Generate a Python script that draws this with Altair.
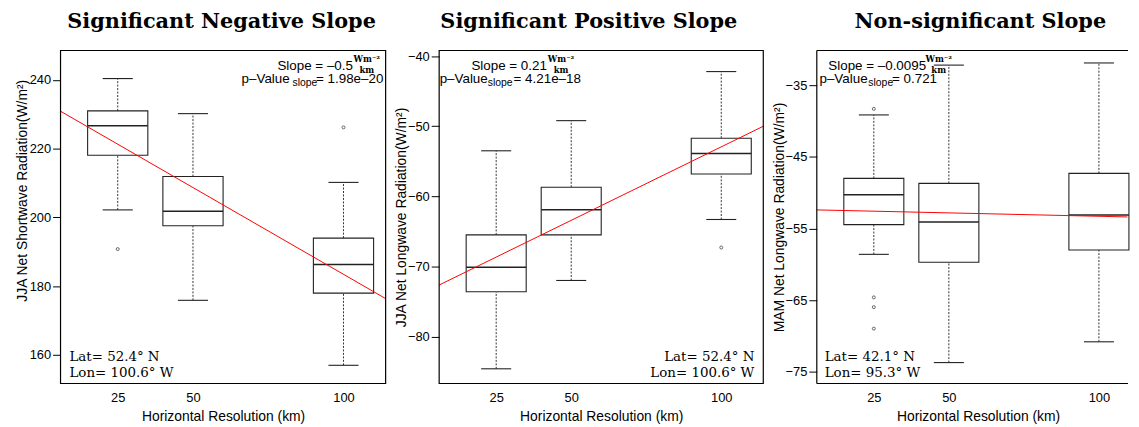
import altair as alt
import pandas as pd

# ---------------- data ----------------
res = [25, 50, 100]

# Panel 1: JJA net shortwave
p1_lo = [202.2, 175.9, 157.0]
p1_q1 = [218.1, 197.6, 178.0]
p1_med = [226.7, 201.8, 186.3]
p1_q3 = [231.0, 211.9, 194.0]
p1_hi = [240.4, 230.2, 210.2]
p1_out_x = [25, 100]
p1_out_y = [190.8, 226.2]
p1_line_x = [6, 114]
p1_line_y = [230.9, 176.4]
p1_yticks = [160, 180, 200, 220, 240]

# Panel 2: JJA net longwave
p2_lo = [-84.6, -72.0, -63.3]
p2_q1 = [-73.6, -65.5, -56.8]
p2_med = [-70.1, -61.9, -53.9]
p2_q3 = [-65.5, -58.7, -51.7]
p2_hi = [-53.5, -49.2, -42.2]
p2_out_x = [100]
p2_out_y = [-67.3]
p2_line_x = [6, 114]
p2_line_y = [-72.65, -50.0]
p2_yticks = [-80, -70, -60, -50, -40]

# Panel 3: MAM net longwave
p3_lo = [-58.6, -73.7, -70.8]
p3_q1 = [-54.45, -59.7, -58.0]
p3_med = [-50.3, -54.1, -53.1]
p3_q3 = [-48.0, -48.7, -47.3]
p3_hi = [-39.15, -32.2, -31.9]
p3_out_x = [25, 25, 25, 25]
p3_out_y = [-38.3, -64.6, -65.97, -68.96]
p3_line_x = [6, 109.5]
p3_line_y = [-52.4, -53.38]
p3_yticks = [-75, -65, -55, -45, -35]

H = 336
SANS = "Liberation Sans"
SERIF = "DejaVu Serif"
one = pd.DataFrame({"a": [0]})


def txt(text, x, y, size=13.5, align="left", font=SANS, weight="normal"):
    return alt.Chart(one).mark_text(
        text=text, align=align, baseline="middle", font=font,
        fontSize=size, fontWeight=weight, color="black"
    ).encode(x=alt.value(x), y=alt.value(y))


def panel(title, title_dx, ytitle, lo, q1, med, q3, hi, ox, oy, lx, ly,
          xdom, ydom, yticks, W, annot, latlon, full_frame=True,
          ytitle_y=None, xtitle_x=None):
    df = pd.DataFrame({"res": res, "lo": lo, "q1": q1, "med": med,
                       "q3": q3, "hi": hi})
    xs = alt.Scale(domain=xdom, nice=False, zero=False)
    ys = alt.Scale(domain=ydom, nice=False, zero=False)
    xkw = dict(values=res, ticks=False, tickSize=0, domain=False, grid=False,
               labelPadding=8, title="Horizontal Resolution (km)",
               titleY=37, titleBaseline="alphabetic")
    if xtitle_x is not None:
        xkw["titleX"] = xtitle_x
    ykw = dict(values=yticks, grid=False, domain=False, tickSize=8,
               labelPadding=2, title=ytitle, titleX=-34,
               titleBaseline="alphabetic")
    if ytitle_y is not None:
        ykw["titleY"] = ytitle_y
    base = alt.Chart(df).transform_calculate(
        bl="datum.res - 10", br="datum.res + 10",
        cl="datum.res - 5", cr="datum.res + 5")
    dash = [2, 1.5]
    w_hi = base.mark_rule(strokeDash=dash, color="#333", strokeWidth=1).encode(
        x=alt.X("res:Q", scale=xs, axis=alt.Axis(**xkw)),
        y=alt.Y("q3:Q", scale=ys, axis=alt.Axis(**ykw)),
        y2="hi:Q")
    w_lo = base.mark_rule(strokeDash=dash, color="#333", strokeWidth=1).encode(
        x="res:Q", y="lo:Q", y2="q1:Q")
    box = base.mark_rect(fill="white", stroke="#222", strokeWidth=1.1).encode(
        x="bl:Q", x2="br:Q", y="q1:Q", y2="q3:Q")
    mline = base.mark_rule(color="#222", strokeWidth=1.5).encode(
        x="bl:Q", x2="br:Q", y="med:Q")
    c_hi = base.mark_rule(color="#222", strokeWidth=1.1).encode(
        x="cl:Q", x2="cr:Q", y="hi:Q")
    c_lo = base.mark_rule(color="#222", strokeWidth=1.1).encode(
        x="cl:Q", x2="cr:Q", y="lo:Q")
    outl = alt.Chart(pd.DataFrame({"ox": ox, "oy": oy})).mark_point(
        shape="circle", filled=False, size=9, color="#222", strokeWidth=1
    ).encode(x="ox:Q", y="oy:Q")
    reg = alt.Chart(pd.DataFrame({"lx": lx, "ly": ly})).mark_line(
        color="red", strokeWidth=1).encode(x="lx:Q", y="ly:Q")

    layers = [w_hi, w_lo, box, mline, c_hi, c_lo, outl, reg]
    if full_frame:
        layers.append(alt.Chart(one).mark_rect(
            fill="transparent", stroke="black", strokeWidth=1.2).encode(
            x=alt.value(0), x2=alt.value(W), y=alt.value(0), y2=alt.value(H)))
    else:
        for (a, b, c, d) in [(0, W, 0, 0), (0, W, H, H), (0, 0, 0, H)]:
            layers.append(alt.Chart(one).mark_rule(
                color="black", strokeWidth=1.2).encode(
                x=alt.value(a), x2=alt.value(b), y=alt.value(c),
                y2=alt.value(d)))
    # annotations
    s_text, s_right, frac_x, p_left, sub_left, pv_text, pv_right = annot
    layers += [
        txt(s_text, s_right, 15.3, align="right"),
        txt("Wm\u207b\u00b2", frac_x, 9.0, size=8.5, align="center",
            font=SERIF, weight="bold"),
        txt("km", frac_x, 19.6, size=8.5, align="center",
            font=SERIF, weight="bold"),
        txt("p\u2013Value", p_left, 28.4),
        txt("slope", sub_left, 32.8, size=10.5),
        txt(pv_text, pv_right, 28.4, align="right"),
    ]
    lat, lon, lx0, lalign = latlon
    layers += [
        txt(lat, lx0, 309, size=13.5, align=lalign, font=SERIF),
        txt(lon, lx0, 325.5, size=13.5, align=lalign, font=SERIF),
    ]
    return alt.layer(*layers).properties(
        width=W, height=H,
        title=alt.TitleParams(text=title, anchor="middle", frame="group",
                              baseline="alphabetic", offset=1, dx=title_dx))


p1 = panel("Significant Negative Slope", -1.5,
           "JJA Net Shortwave Radiation(W/m\u00b2)",
           p1_lo, p1_q1, p1_med, p1_q3, p1_hi, p1_out_x, p1_out_y,
           p1_line_x, p1_line_y, [6, 114], [151.7, 248.57], p1_yticks, 328,
           ("Slope = \u20130.5", 295, 309, 182.7, 234, "= 1.98e\u201320", 325.7),
           ("Lat= 52.4\u00b0 N", "Lon= 100.6\u00b0 W", 9, "left"),
           ytitle_y=141)
p2 = panel("Significant Positive Slope", -12.5,
           "JJA Net Longwave Radiation(W/m\u00b2)",
           p2_lo, p2_q1, p2_med, p2_q3, p2_hi, p2_out_x, p2_out_y,
           p2_line_x, p2_line_y, [6, 114], [-86.7, -39.19], p2_yticks, 327,
           ("Slope = 0.21", 108.7, 123, 0.5, 49, "= 4.21e\u201318", 143),
           ("Lat= 52.4\u00b0 N", "Lon= 100.6\u00b0 W", 318, "right"))
p3 = panel("Non-significant Slope", 8,
           "MAM Net Longwave Radiation(W/m\u00b2)",
           p3_lo, p3_q1, p3_med, p3_q3, p3_hi, p3_out_x, p3_out_y,
           p3_line_x, p3_line_y, [6, 109.7], [-76.62, -30.16], p3_yticks, 314,
           ("Slope = \u20130.0095", 110.3, 123, 2.7, 52, "= 0.721", 121.3),
           ("Lat= 42.1\u00b0 N", "Lon= 95.3\u00b0 W", 8, "left"),
           full_frame=False, xtitle_x=162.7)

chart = alt.hconcat(p1, p2, p3, spacing=54, bounds="flush").properties(
    padding={"left": 7, "top": 0, "right": 0, "bottom": 0}
).configure_view(stroke="transparent").configure_axis(
    labelFont=SANS, labelFontSize=13, labelColor="black",
    titleFont=SANS, titleFontSize=14, titleColor="black",
    titleFontWeight="normal", tickColor="black", tickWidth=1
).configure_title(font=SERIF, fontSize=21, fontWeight="bold", color="black")

chart.save("out.html", embed_options={"renderer": "svg", "actions": False})
